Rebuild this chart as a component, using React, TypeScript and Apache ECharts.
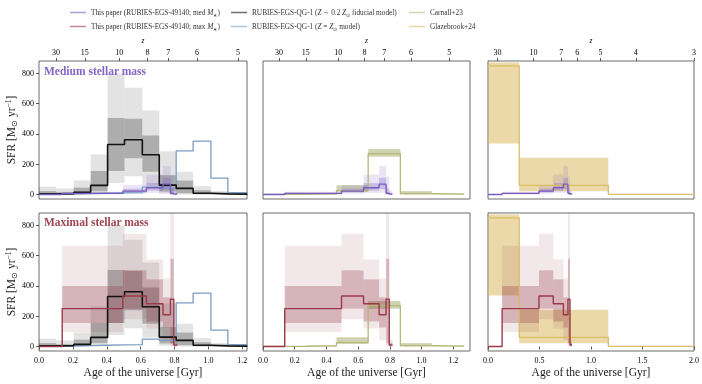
import React, { useEffect, useRef } from "react";
import * as echarts from "echarts";

// ---------------- data (ages in Gyr, SFR in Msun/yr) ----------------
// RUBIES-EGS-QG-1 (fiducial & solar-metallicity models)
const qgEdges = [0, 0.1, 0.205, 0.305, 0.405, 0.505, 0.61, 0.71, 0.81, 0.91, 1.015, 1.115, 1.23];
const qgFidMedian = [4, 5, 14, 60, 330, 362, 262, 62, 40, 8, 4, 2];
const qgFidLo68 = [0, 0, 3, 22, 155, 240, 150, 20, 8, 1, 0, 0];
const qgFidHi68 = [22, 15, 45, 155, 505, 500, 390, 128, 92, 28, 12, 6];
const qgFidLo95 = [0, 0, 0, 3, 75, 120, 60, 4, 0, 0, 0, 0];
const qgFidHi95 = [52, 40, 93, 265, 800, 705, 555, 285, 150, 55, 22, 10];
const qgSolarMedian = [3, 3, 5, 8, 10, 12, 48, 40, 288, 352, 108, 12];

// This paper (RUBIES-EGS-49140)
const tpEdges = [0, 0.137, 0.495, 0.634, 0.732, 0.776, 0.796, 0.816];
const medMedian = [0, 7, 22, 44, 68, 8, 2];
const medLo68 = [null, 3, 12, 25, 35, 0, 0];
const medHi68 = [null, 12, 38, 75, 110, 40, 10];
const medLo95 = [null, 0, 5, 10, 12, 0, 0];
const medHi95 = [null, 18, 62, 132, 190, 120, 25];
const maxMedian = [0, 250, 333, 282, 210, 312, 10];
const maxLo68 = [null, 155, 250, 165, 125, 20, 2];
const maxHi68 = [null, 400, 503, 443, 325, 580, 25];
const maxLo95 = [null, 95, 180, 118, 40, 0, 0];
const maxHi95 = [null, 665, 745, 575, 450, 1200, 45];

// Carnall+23
const c23Edges = [0, 0.27, 0.463, 0.663, 0.866, 1.064, 1.268];
const c23Median = [1, 4, 25, 270, 5, 2];
const c23Lo = [0, 1, 18, 250, 1, 0];
const c23Hi = [2, 8, 61, 300, 22, 4];

// Glazebrook+24
const g24Edges = [0, 0.303, 1.168, 2.0];
const g24Median = [850, 60, 1];
const g24Lo = [337, 22, 0];
const g24Hi = [872, 243, 2];

// axes
const yTicks = [0, 200, 400, 600, 800];
const xTicksA = [0, 0.2, 0.4, 0.6, 0.8, 1.0, 1.2];
const xTicksC = [0, 0.5, 1.0, 1.5, 2.0];
const zTicksAB = [30, 15, 10, 8, 7, 6, 5];
const zTicksC = [30, 10, 7, 6, 5, 4, 3];

const N_MED = "This paper (RUBIES-EGS-49140; med M∗)";
const N_MAX = "This paper (RUBIES-EGS-49140; max M∗)";
const N_FID = "RUBIES-EGS-QG-1 (Z ∼ 0.2 Z⊙ fiducial model)";
const N_SOL = "RUBIES-EGS-QG-1 (Z = Z⊙ model)";
const N_C23 = "Carnall+23";
const N_G24 = "Glazebrook+24";

const RICH_NAMES: Record<string, string> = {
  [N_MED]: "This paper (RUBIES-EGS-49140; med {it|M}{sub|∗})",
  [N_MAX]: "This paper (RUBIES-EGS-49140; max {it|M}{sub|∗})",
  [N_FID]: "RUBIES-EGS-QG-1 ({it|Z} ∼ 0.2 {it|Z}{sub|⊙} fiducial model)",
  [N_SOL]: "RUBIES-EGS-QG-1 ({it|Z} = {it|Z}{sub|⊙} model)",
  [N_C23]: "Carnall+23",
  [N_G24]: "Glazebrook+24",
};

// flat LCDM age of the universe (for the redshift axis)
const H0 = 67.7;
const OM = 0.31;
function ageGyr(z: number) {
  const OL = 1 - OM;
  const tH = 977.8 / H0;
  return ((tH * 2) / (3 * Math.sqrt(OL))) * Math.asinh(Math.sqrt(OL / OM) * Math.pow(1 + z, -1.5));
}

const FONT = "'Liberation Serif', 'Times New Roman', serif";
const COL = {
  black: "#111111",
  blue: "#7b9cc4",
  purple: "#7a5cc0",
  red: "#9a3a48",
  olive: "#b3b878",
  gold: "#d9bd66",
};

function bandRows(edges: number[], lo: (number | null)[], hi: (number | null)[]) {
  const rows: number[][] = [];
  for (let i = 0; i < lo.length; i++) {
    if (lo[i] == null || hi[i] == null) continue;
    rows.push([edges[i], edges[i + 1], lo[i] as number, hi[i] as number]);
  }
  return rows;
}
function stepRows(edges: number[], vals: number[]) {
  const pts = vals.map((v, i) => [edges[i], v]);
  pts.push([edges[vals.length], vals[vals.length - 1]]);
  return pts;
}

function bandSeries(grid: number, rows: number[][], color: string) {
  return {
    type: "custom",
    xAxisIndex: grid,
    yAxisIndex: grid,
    silent: true,
    data: rows,
    encode: { x: [0, 1], y: [2, 3] },
    renderItem: (params: any, api: any) => {
      const p0 = api.coord([api.value(0), api.value(3)]);
      const p1 = api.coord([api.value(1), api.value(2)]);
      const cs = params.coordSys;
      const shape = echarts.graphic.clipRectByRect(
        { x: p0[0], y: p0[1], width: p1[0] - p0[0], height: p1[1] - p0[1] },
        { x: cs.x, y: cs.y, width: cs.width, height: cs.height }
      );
      if (!shape) return null;
      return { type: "rect", shape, style: { fill: color } };
    },
  };
}
function lineSeries(grid: number, name: string, edges: number[], vals: number[], color: string, width = 1.3) {
  return {
    type: "line",
    name,
    xAxisIndex: grid,
    yAxisIndex: grid,
    step: "end",
    symbol: "none",
    silent: true,
    data: stepRows(edges, vals),
    lineStyle: { color, width },
    itemStyle: { color },
    z: 3,
  };
}

export default function App() {
  const ref = useRef<HTMLDivElement>(null);
  useEffect(() => {
    if (!ref.current) return;
    const chart = echarts.init(ref.current, undefined, { renderer: "svg" });

    const gridPos = [
      { left: 39, top: 61, width: 208, height: 138 },
      { left: 263, top: 61, width: 207, height: 138 },
      { left: 488, top: 61, width: 206, height: 138 },
      { left: 39, top: 213, width: 208, height: 138 },
      { left: 263, top: 213, width: 207, height: 138 },
      { left: 488, top: 213, width: 206, height: 138 },
    ];
    const xMax = [1.228, 1.305, 2.0, 1.228, 1.305, 2.0];
    const topMax = [1.228, 1.305, 2.15];
    const INK = "#000000";
    const tickStyle = { color: "#333", width: 0.8 };
    const labelBase = { fontFamily: FONT, fontSize: 8, color: INK };

    const grids = gridPos.map((g) => ({
      ...g,
      show: true,
      borderColor: "#444",
      borderWidth: 0.8,
      backgroundColor: "transparent",
    }));

    const xAxes: any[] = gridPos.map((_, i) => {
      const bottomRow = i >= 3;
      const ticks = i % 3 === 2 ? xTicksC : xTicksA;
      return {
        type: "value",
        gridIndex: i,
        position: "bottom",
        min: 0,
        max: xMax[i],
        axisLine: { show: false, lineStyle: { color: INK } },
        splitLine: { show: false },
        axisTick: { show: bottomRow, length: 3, customValues: ticks, lineStyle: tickStyle },
        axisLabel: {
          show: bottomRow,
          customValues: ticks,
          margin: 5,
          ...labelBase,
          formatter: (v: number) => v.toFixed(1),
        },
        name: bottomRow ? "Age of the universe [Gyr]" : "",
        nameLocation: "middle",
        nameGap: 15,
        nameTextStyle: { fontFamily: FONT, fontSize: 11.5, color: "#1a1a1a" },
      };
    });
    [0, 1, 2].forEach((i) => {
      const zs = i === 2 ? zTicksC : zTicksAB;
      const ages = zs.map(ageGyr);
      xAxes.push({
        type: "value",
        gridIndex: i,
        position: "top",
        min: 0,
        max: topMax[i],
        axisLine: { show: false, lineStyle: { color: INK } },
        splitLine: { show: false },
        axisTick: { show: true, length: 3, customValues: ages, lineStyle: tickStyle },
        axisLabel: {
          customValues: ages,
          margin: 5,
          ...labelBase,
          formatter: (v: number) => {
            let best = 0;
            ages.forEach((a, k) => {
              if (Math.abs(a - v) < Math.abs(ages[best] - v)) best = k;
            });
            return String(zs[best]);
          },
        },
        name: "z",
        nameLocation: "middle",
        nameGap: 17,
        nameTextStyle: { fontFamily: FONT, fontSize: 7.5, fontStyle: "italic", color: INK },
      });
    });

    const yAxes = gridPos.map((_, i) => {
      const firstCol = i % 3 === 0;
      return {
        type: "value",
        gridIndex: i,
        min: -30,
        max: 882,
        axisLine: { show: false, lineStyle: { color: INK } },
        splitLine: { show: false },
        axisTick: { show: firstCol, length: 3, customValues: yTicks, lineStyle: tickStyle },
        axisLabel: { show: firstCol, customValues: yTicks, margin: 5, ...labelBase },
        name: firstCol ? "SFR [M{sub|⊙} yr{sup|−1}]" : "",
        nameLocation: "middle",
        nameGap: 21,
        nameTextStyle: {
          fontFamily: FONT,
          fontSize: 11.5,
          color: "#1a1a1a",
          rich: {
            sub: { fontFamily: FONT, fontSize: 7.5, color: "#1a1a1a", verticalAlign: "bottom", padding: [6, 0, 0, 0] },
            sup: { fontFamily: FONT, fontSize: 7.5, color: "#1a1a1a", verticalAlign: "top", padding: [0, 0, 6, 0] },
          },
        },
      };
    });

    const series: any[] = [];
    const GRAY_L = "rgba(0,0,0,0.11)";
    const GRAY_D = "rgba(0,0,0,0.24)";
    const PUR_L = "rgba(122,92,192,0.16)";
    const PUR_D = "rgba(122,92,192,0.30)";
    const RED_L = "rgba(139,42,58,0.11)";
    const RED_D = "rgba(139,42,58,0.27)";
    const OLV = "rgba(140,150,70,0.42)";
    const GLD = "rgba(215,178,80,0.49)";

    for (let row = 0; row < 2; row++) {
      const g0 = row * 3;
      const tpMed = row === 0 ? medMedian : maxMedian;
      const tpL = row === 0 ? bandRows(tpEdges, medLo95, medHi95) : bandRows(tpEdges, maxLo95, maxHi95);
      const tpD = row === 0 ? bandRows(tpEdges, medLo68, medHi68) : bandRows(tpEdges, maxLo68, maxHi68);
      const tpName = row === 0 ? N_MED : N_MAX;
      const tpCol = row === 0 ? COL.purple : COL.red;
      const tpLC = row === 0 ? PUR_L : RED_L;
      const tpDC = row === 0 ? PUR_D : RED_D;

      // column 1: RUBIES-EGS-QG-1
      series.push(bandSeries(g0, bandRows(qgEdges, qgFidLo95, qgFidHi95), GRAY_L));
      series.push(bandSeries(g0, bandRows(qgEdges, qgFidLo68, qgFidHi68), GRAY_D));
      series.push(bandSeries(g0, tpL, tpLC));
      series.push(bandSeries(g0, tpD, tpDC));
      series.push(lineSeries(g0, N_SOL, qgEdges, qgSolarMedian, COL.blue, 1.3));
      series.push(lineSeries(g0, N_FID, qgEdges, qgFidMedian, COL.black, 1.6));
      series.push(lineSeries(g0, tpName, tpEdges, tpMed, tpCol, 1.4));

      // column 2: Carnall+23
      series.push(bandSeries(g0 + 1, bandRows(c23Edges, c23Lo, c23Hi), OLV));
      series.push(bandSeries(g0 + 1, tpL, tpLC));
      series.push(bandSeries(g0 + 1, tpD, tpDC));
      series.push(lineSeries(g0 + 1, N_C23, c23Edges, c23Median, COL.olive, 1.3));
      series.push(lineSeries(g0 + 1, tpName, tpEdges, tpMed, tpCol, 1.4));

      // column 3: Glazebrook+24
      series.push(bandSeries(g0 + 2, bandRows(g24Edges, g24Lo, g24Hi), GLD));
      series.push(bandSeries(g0 + 2, tpL, tpLC));
      series.push(bandSeries(g0 + 2, tpD, tpDC));
      series.push(lineSeries(g0 + 2, N_G24, g24Edges, g24Median, COL.gold, 1.3));
      series.push(lineSeries(g0 + 2, tpName, tpEdges, tpMed, tpCol, 1.4));
    }

    const legendText = {
      fontFamily: FONT,
      fontSize: 7.3,
      lineHeight: 9,
      color: "#333",
      rich: {
        it: { fontFamily: FONT, fontSize: 7.3, lineHeight: 9, fontStyle: "italic", color: "#333" },
        sub: { fontFamily: FONT, fontSize: 5.3, lineHeight: 9, color: "#333", verticalAlign: "bottom" },
      },
    };
    const mkLegend = (left: number, names: string[]) => ({
      orient: "vertical",
      left,
      top: 8,
      padding: 0,
      icon: "rect",
      itemWidth: 16,
      itemHeight: 1.5,
      itemGap: 5,
      selectedMode: false,
      data: names,
      itemStyle: { opacity: 0.6 },
      textStyle: legendText,
      formatter: (n: string) => RICH_NAMES[n] ?? n,
    });

    chart.setOption({
      animation: false,
      textStyle: { fontFamily: FONT, color: INK },
      grid: grids,
      xAxis: xAxes,
      yAxis: yAxes,
      legend: [
        mkLegend(70, [N_MED, N_MAX]),
        mkLegend(231, [N_FID, N_SOL]),
        mkLegend(409, [N_C23, N_G24]),
      ],
      title: [
        {
          text: "Medium stellar mass",
          left: 44,
          top: 65,
          padding: 0,
          textStyle: { fontFamily: FONT, fontSize: 11.5, fontWeight: "bold", color: "#8466c6" },
        },
        {
          text: "Maximal stellar mass",
          left: 44,
          top: 216,
          padding: 0,
          textStyle: { fontFamily: FONT, fontSize: 11.5, fontWeight: "bold", color: "#9e4652" },
        },
      ],
      series,
    });
    return () => chart.dispose();
  }, []);
  return (
    <div
      ref={ref}
      style={{ position: "fixed", left: 0, top: 0, width: 702, height: 384, willChange: "transform" }}
    />
  );
}
